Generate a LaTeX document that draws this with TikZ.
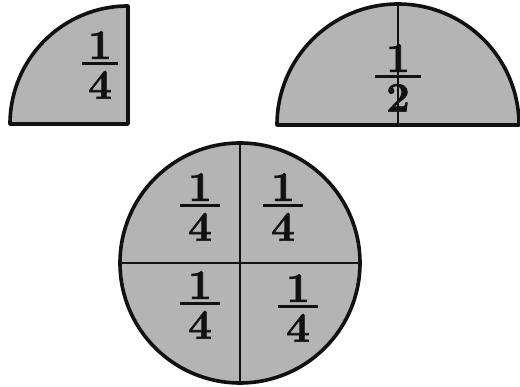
\documentclass[tikz,border=0pt]{standalone}
\usepackage{fontspec}
\setmainfont{Latin Modern Roman}[BoldFeatures={FakeBold=1.6}]
\usepackage{xcolor}
\usepackage{tikz}
\usetikzlibrary{positioning}
\definecolor{shadec}{HTML}{B4B4B4}
\definecolor{inkc}{HTML}{111111}
\tikzset{
  pieceshape/.style={draw=inkc, fill=shadec, line width=3.6pt, line join=round},
  cutline/.style={draw=inkc, line width=2.6pt},
  fracnode/.style={inner sep=0pt, text=inkc, font=\fontsize{42}{44}\selectfont\bfseries},
}
% stacked fraction: numeral, bar, numeral
\newcommand{\fracpart}[3][36pt]{\vbox{\offinterlineskip\halign{\hfil##\hfil\cr
  #2\cr\noalign{\kern3pt}\vrule width #1 height 3.2pt depth 0pt\cr\noalign{\kern6pt}#3\cr}}}
\begin{document}
\begin{tikzpicture}[x=1pt, y=1pt]
  \useasboundingbox (0,0) rectangle (520,387);
  % quarter
  \draw[pieceshape] (128,263) -- (10,263) arc (180:90:118) -- cycle;
  \node[fracnode] (quart) at (100,322) {\fracpart{1}{4}};
  % half
  \draw[pieceshape] (277,262) arc (180:0:121) -- cycle;
  \draw[cutline] (398,262) -- (398,383);
  \node[fracnode] (half) at (398,309) {\fracpart[46pt]{1}{2}};
  % whole
  \draw[pieceshape] (240,124) circle (120);
  \draw[cutline] (120,124) -- (360,124);
  \draw[cutline] (240,4) -- (240,244);
  \node[fracnode] (qa) at (200,180) {\fracpart[40pt]{1}{4}};
  \node[fracnode] (qb) at (283,180) {\fracpart[40pt]{1}{4}};
  \node[fracnode] (qc) at (200,82) {\fracpart[40pt]{1}{4}};
  \node[fracnode] (qd) at (298,79) {\fracpart[40pt]{1}{4}};
\end{tikzpicture}
\end{document}
